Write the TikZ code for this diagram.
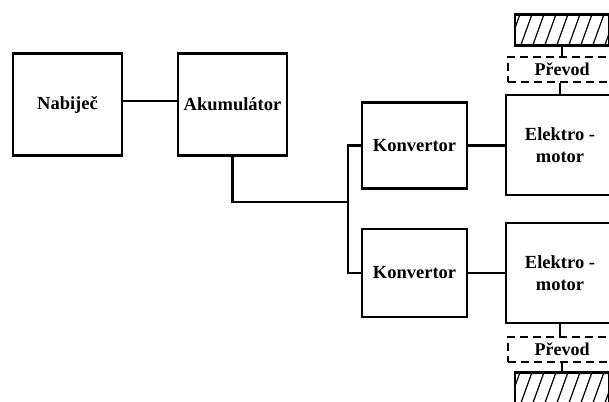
\documentclass[tikz,border=0pt]{standalone}
\usepackage{fontspec}
\setmainfont{Liberation Serif}
\begin{document}
\begin{tikzpicture}[x=1pt,y=-1pt,
  blockbox/.style={draw,line width=2.6pt,inner sep=0pt,align=center,
    font=\bfseries\fontsize{18.5}{22}\selectfont},
  gearbox/.style={draw,dash pattern=on 8pt off 5pt,line width=2.2pt,inner sep=0pt,
    minimum width=108pt,minimum height=25pt,font=\bfseries\fontsize{18}{22}\selectfont},
  hatchbox/.style={draw,line width=2.6pt,inner sep=0pt,minimum width=94pt,minimum height=31pt,
    path picture={\foreach \k in {-6,...,6}
      \draw[line width=1.2pt] ([xshift=\k*12pt-6pt,yshift=-2pt]path picture bounding box.south)
        -- ++(13pt,36pt);}},
  wire/.style={line width=2.2pt}]
\clip (0,0) rectangle (609,401);
\fill[white] (0,0) rectangle (609,401);

% charger and battery
\node[blockbox,minimum width=109pt,minimum height=102pt] (nab) at (67.5,104.5) {Nabiječ};
\node[blockbox,minimum width=109pt,minimum height=102pt] (akum) at (232.5,104.5) {Akumulátor};

% converters
\node[blockbox,minimum width=105pt,minimum height=86pt] (konv1) at (414.5,145.5) {Konvertor};
\node[blockbox,minimum width=105pt,minimum height=88pt] (konv2) at (414.5,273) {Konvertor};

% motors
\node[blockbox,minimum width=108pt,minimum height=100pt] (em1) at (560,145) {Elektro -\\motor};
\node[blockbox,minimum width=108pt,minimum height=100pt] (em2) at (560,273) {Elektro -\\motor};

% gears and wheels
\node[gearbox] (pr1) at (562,69.5) {Převod};
\node[gearbox] (pr2) at (562,349.5) {Převod};
\node[hatchbox] (h1) at (562,30) {};
\node[hatchbox] (h2) at (562,388) {};

% wiring
\coordinate (bus) at (348,202);
\draw[wire] ([yshift=3.5pt]nab.east) -- ([yshift=3.5pt]akum.west);
\draw[wire] (akum.south) |- (bus);
\draw[wire] (konv1.west) -| (bus) |- (konv2.west);
\draw[wire] (konv1.east) -- (em1.west |- konv1.east);
\draw[wire] (konv2.east) -- (em2.west |- konv2.east);

% mechanical links
\draw[wire] (em1.north) -- (em1.north |- pr1.south);
\draw[wire] (h1.south) -- (h1.south |- pr1.north);
\draw[wire] (em2.south) -- (em2.south |- pr2.north);
\draw[wire] (h2.north) -- (h2.north |- pr2.south);
\end{tikzpicture}
\end{document}
